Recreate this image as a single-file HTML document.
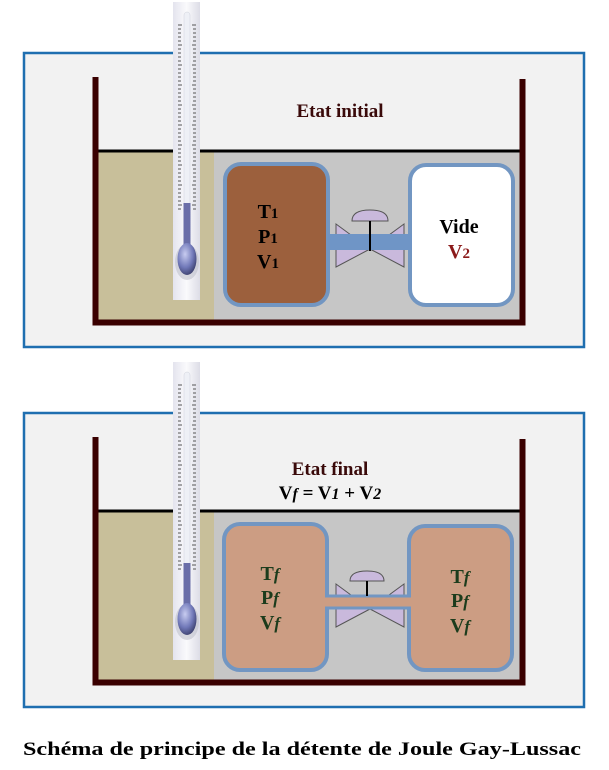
<!DOCTYPE html>
<html><head><meta charset="utf-8"><style>
html,body{margin:0;padding:0;background:#fff;}
svg{display:block;font-family:"Liberation Serif",serif;font-weight:bold;}
</style></head><body>
<svg width="609" height="770" viewBox="0 0 609 770" xmlns="http://www.w3.org/2000/svg">
<defs>
<linearGradient id="tg" x1="0" x2="1" y1="0" y2="0">
<stop offset="0" stop-color="#e4e4ee"/><stop offset="0.5" stop-color="#fafafc"/><stop offset="1" stop-color="#dcdce6"/>
</linearGradient>
<radialGradient id="bulb" cx="0.4" cy="0.35" r="0.7">
<stop offset="0" stop-color="#c8ccf0"/><stop offset="0.6" stop-color="#7078b8"/><stop offset="1" stop-color="#3a3e6a"/>
</radialGradient>
<g id="ticks">
<path d="M178 25h4M192 25h4M178 29h3M193 29h3M178 33h3M193 33h3M178 37h3M193 37h3M178 41h3M193 41h3M178 45h4M192 45h4M178 49h3M193 49h3M178 53h3M193 53h3M178 57h3M193 57h3M178 61h3M193 61h3M178 65h4M192 65h4M178 69h3M193 69h3M178 73h3M193 73h3M178 77h3M193 77h3M178 81h3M193 81h3M178 85h4M192 85h4M178 89h3M193 89h3M178 93h3M193 93h3M178 97h3M193 97h3M178 101h3M193 101h3M178 105h4M192 105h4M178 109h3M193 109h3M178 113h3M193 113h3M178 117h3M193 117h3M178 121h3M193 121h3M178 125h4M192 125h4M178 129h3M193 129h3M178 133h3M193 133h3M178 137h3M193 137h3M178 141h3M193 141h3M178 145h4M192 145h4M178 149h3M193 149h3M178 153h3M193 153h3M178 157h3M193 157h3M178 161h3M193 161h3M178 165h4M192 165h4M178 169h3M193 169h3M178 173h3M193 173h3M178 177h3M193 177h3M178 181h3M193 181h3M178 185h4M192 185h4M178 189h3M193 189h3M178 193h3M193 193h3M178 197h3M193 197h3M178 201h3M193 201h3M178 205h4M192 205h4M178 209h3M193 209h3" stroke="#555" stroke-width="1"/>
</g>
<g id="therm">
<rect x="173" y="2" width="27" height="298" fill="url(#tg)"/>
<rect x="184" y="12" width="6" height="230" rx="3" fill="#eef0f6" stroke="#d0d2dc" stroke-width="0.5"/>
<use href="#ticks"/>
<rect x="183.5" y="203" width="7" height="50" fill="#6a6ea8"/>
<ellipse cx="187" cy="262" rx="12" ry="18" fill="#c0c2cc" opacity="0.6"/>
<ellipse cx="187" cy="259" rx="9.5" ry="16" fill="url(#bulb)"/>
</g>
<g id="valve">
<path d="M336 224 L370 249 L336 267 Z" fill="#c9b9dc" stroke="#555" stroke-width="1"/>
<path d="M404 224 L370 249 L404 267 Z" fill="#c9b9dc" stroke="#555" stroke-width="1"/>
</g>
</defs>

<!-- Panel 1 -->
<rect x="24" y="53" width="560" height="294" fill="#f2f2f2" stroke="#1f6fb0" stroke-width="2.5"/>
<rect x="98" y="151" width="116" height="169" fill="#c8bf9a"/>
<rect x="214" y="151" width="307" height="169" fill="#c6c6c6"/>
<line x1="98" y1="151" x2="521" y2="151" stroke="#000" stroke-width="3"/>
<path d="M95.5 77 V322.5 H522.5 V79" fill="none" stroke="#3a0000" stroke-width="6"/>
<rect x="225" y="164" width="103" height="141" rx="16" fill="#9c603d" stroke="#7296c2" stroke-width="4"/>
<rect x="410" y="165" width="103" height="140" rx="16" fill="#fff" stroke="#7296c2" stroke-width="4"/>
<use href="#valve"/>
<rect x="328" y="234" width="84" height="16" fill="#6f95c6"/>
<path d="M352 221 Q352 210 370 210 Q388 210 388 221 Z" fill="#c9b9dc" stroke="#555" stroke-width="1"/>
<line x1="370" y1="221" x2="370" y2="251" stroke="#000" stroke-width="2"/>
<text x="340" y="117" font-size="19" fill="#3a0a0a" text-anchor="middle">Etat initial</text>
<g font-size="20" fill="#000" text-anchor="middle">
<text x="268" y="218">T<tspan font-size="15">1</tspan></text>
<text x="268" y="243">P<tspan font-size="15">1</tspan></text>
<text x="268" y="268">V<tspan font-size="15">1</tspan></text>
<text x="459" y="233">Vide</text>
<text x="459" y="258" fill="#8b1a1a">V<tspan font-size="15">2</tspan></text>
</g>
<use href="#therm"/>

<!-- Panel 2 -->
<rect x="24" y="413" width="560" height="294" fill="#f2f2f2" stroke="#1f6fb0" stroke-width="2.5"/>
<rect x="98" y="511" width="116" height="169" fill="#c8bf9a"/>
<rect x="214" y="511" width="307" height="169" fill="#c6c6c6"/>
<line x1="98" y1="511" x2="521" y2="511" stroke="#000" stroke-width="3"/>
<path d="M95.5 437 V682.5 H522.5 V439" fill="none" stroke="#3a0000" stroke-width="6"/>
<g transform="translate(0,360)"><use href="#valve"/></g>
<rect x="224" y="524" width="103" height="146" rx="16" fill="#cc9d83" stroke="#7296c2" stroke-width="4"/>
<rect x="409" y="526" width="103" height="144" rx="16" fill="#cc9d83" stroke="#7296c2" stroke-width="4"/>
<rect x="325" y="595" width="86" height="14" fill="#cc9d83"/>
<line x1="325" y1="596" x2="411" y2="596" stroke="#7296c2" stroke-width="3"/>
<line x1="325" y1="608" x2="411" y2="608" stroke="#7296c2" stroke-width="3"/>
<path d="M350 581 Q350 571 367 571 Q384 571 384 581 Z" fill="#c9b9dc" stroke="#555" stroke-width="1"/>
<line x1="367" y1="581" x2="367" y2="596" stroke="#000" stroke-width="2"/>
<text x="330" y="475" font-size="19" fill="#3a0a0a" text-anchor="middle">Etat final</text>
<text x="330" y="499" font-size="19" fill="#000" text-anchor="middle">V<tspan font-style="italic" font-size="16">f</tspan> = V<tspan font-style="italic" font-size="16">1</tspan> + V<tspan font-style="italic" font-size="16">2</tspan></text>
<g font-size="20" fill="#1c3c1c" text-anchor="middle">
<text x="270" y="580">T<tspan font-style="italic" font-size="17">f</tspan></text>
<text x="270" y="604">P<tspan font-style="italic" font-size="17">f</tspan></text>
<text x="270" y="629">V<tspan font-style="italic" font-size="17">f</tspan></text>
<text x="460" y="583">T<tspan font-style="italic" font-size="17">f</tspan></text>
<text x="460" y="607">P<tspan font-style="italic" font-size="17">f</tspan></text>
<text x="460" y="632">V<tspan font-style="italic" font-size="17">f</tspan></text>
</g>
<g transform="translate(0,360)"><use href="#therm"/></g>

<text x="23" y="755" font-size="19" fill="#000" textLength="558" lengthAdjust="spacingAndGlyphs">Schéma de principe de la détente de Joule Gay-Lussac</text>
</svg>
</body></html>
